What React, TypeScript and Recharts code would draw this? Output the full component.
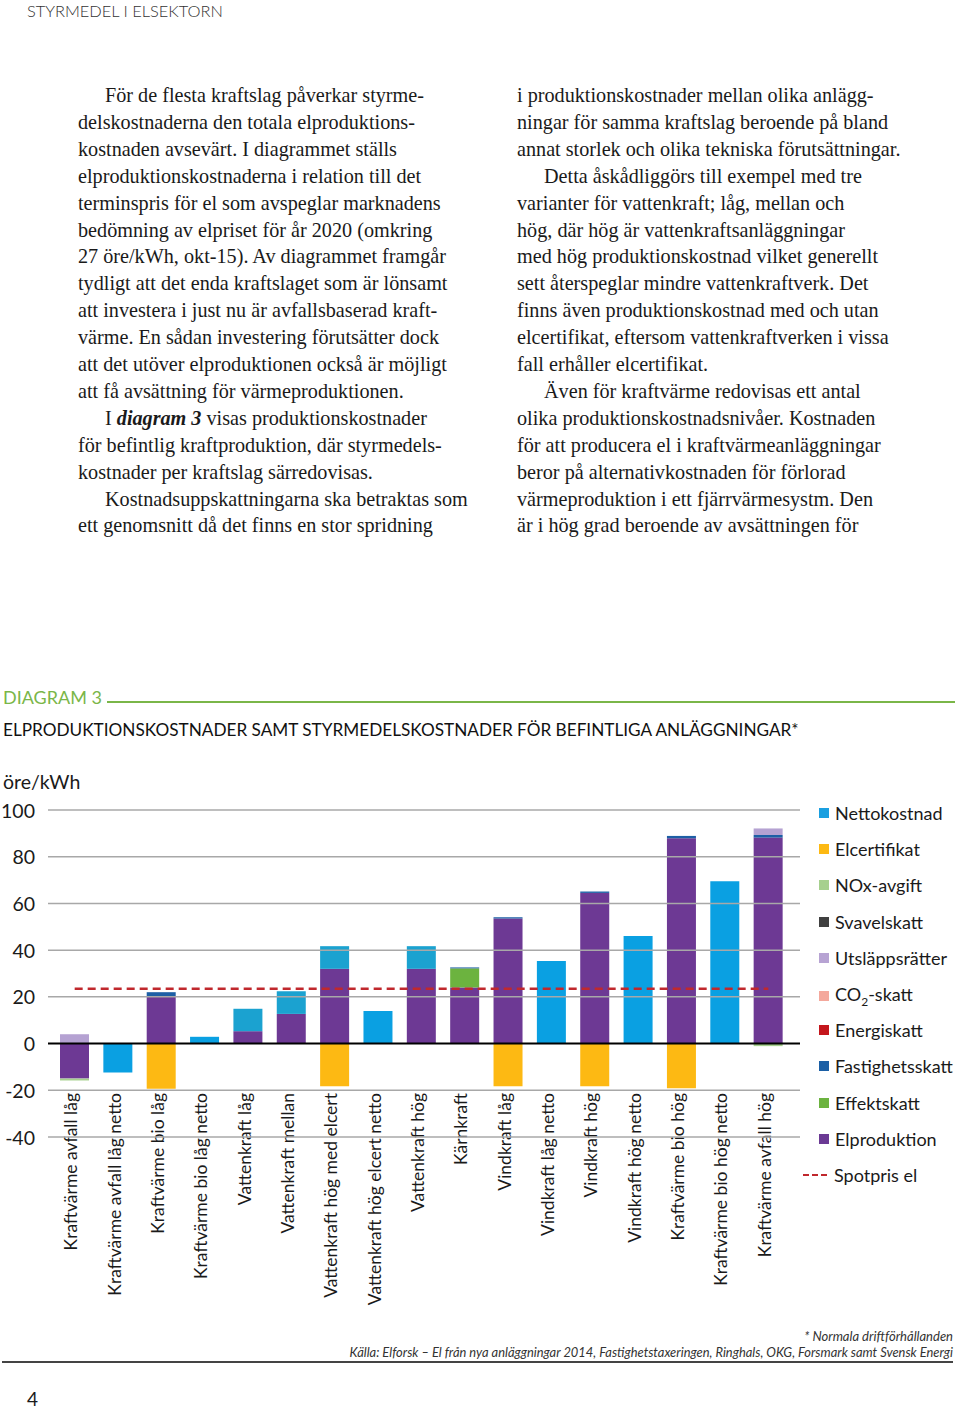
import React from "react";
import { BarChart, Bar, XAxis, YAxis, ReferenceLine } from "recharts";

const categories = [
  "Kraftvärme avfall låg",
  "Kraftvärme avfall låg netto",
  "Kraftvärme bio låg",
  "Kraftvärme bio låg netto",
  "Vattenkraft låg",
  "Vattenkraft mellan",
  "Vattenkraft hög med elcert",
  "Vattenkraft hög elcert netto",
  "Vattenkraft hög",
  "Kärnkraft",
  "Vindkraft låg",
  "Vindkraft låg netto",
  "Vindkraft hög",
  "Vindkraft hög netto",
  "Kraftvärme bio hög",
  "Kraftvärme bio hög netto",
  "Kraftvärme avfall hög",
];

// öre/kWh
const elproduktion = [-15, 0, 20.1, 0, 5.3, 12.7, 32, 0, 32, 24, 53.5, 0, 64.5, 0, 87.9, 0, 88.2];
const effektskatt = [0, 0, 0, 0, 0, 0, 0, 0, 0, 8.2, 0, 0, 0, 0, 0, 0, 0];
const fastighetsskatt = [0, 0, 1.9, 0, 0, 0, 0, 0, 0, 0.4, 0.6, 0, 0.6, 0, 1, 0, 1.1];
const fastighetsskattVatten = [0, 0, 0, 0, 9.6, 9.7, 9.7, 0, 9.7, 0, 0, 0, 0, 0, 0, 0, 0];
const energiskatt = [0, 0, 0, 0, 0, 0, 0, 0, 0, 0, 0, 0, 0, 0, 0, 0, 0];
const co2skatt = [0, 0, 0, 0, 0, 0, 0, 0, 0, 0, 0, 0, 0, 0, 0, 0, 0];
const utslappsratter = [4, 0, 0, 0, 0, 0, 0, 0, 0, 0, 0, 0, 0, 0, 0, 0, 2.8];
const svavelskatt = [0, 0, 0, 0, 0, 0, 0, 0, 0, 0, 0, 0, 0, 0, 0, 0, 0];
const noxavgift = [-0.8, 0, 0, 0, 0, 0, 0, 0, 0, 0, 0, 0, 0, 0, 0, 0, -1.1];
const elcertifikat = [0, 0, -19.3, 0, 0, 0, -18.3, 0, 0, 0, -18.3, 0, -18.3, 0, -19.1, 0, 0];
const nettokostnad = [0, -12.4, 0, 2.9, 0, 0, 0, 13.9, 0, 0, 0, 35.3, 0, 46.1, 0, 69.5, 0];
const SPOTPRIS = 23.5;
const yTicks = [-40, -20, 0, 20, 40, 60, 80, 100];

const data = categories.map((name, i) => ({
  name,
  elproduktion: elproduktion[i],
  effektskatt: effektskatt[i],
  fastighetsskatt: fastighetsskatt[i],
  fastighetsskattVatten: fastighetsskattVatten[i],
  energiskatt: energiskatt[i],
  co2skatt: co2skatt[i],
  utslappsratter: utslappsratter[i],
  svavelskatt: svavelskatt[i],
  noxavgift: noxavgift[i],
  elcertifikat: elcertifikat[i],
  nettokostnad: nettokostnad[i],
}));

const series = [
  { key: "elproduktion", color: "#6d3994" },
  { key: "effektskatt", color: "#6cb33f" },
  { key: "fastighetsskatt", color: "#1d5fa5" },
  { key: "fastighetsskattVatten", color: "#1ba2d0" },
  { key: "energiskatt", color: "#c4161c" },
  { key: "co2skatt", color: "#f4a89c" },
  { key: "utslappsratter", color: "#b5a2d2" },
  { key: "svavelskatt", color: "#404040" },
  { key: "noxavgift", color: "#a6d08e" },
  { key: "elcertifikat", color: "#fdb913" },
  { key: "nettokostnad", color: "#0aa0e2" },
];

const legendItems = [
  { label: "Nettokostnad", color: "#1a9fe0" },
  { label: "Elcertifikat", color: "#fdb913" },
  { label: "NOx-avgift", color: "#a6d08e" },
  { label: "Svavelskatt", color: "#404040" },
  { label: "Utsläppsrätter", color: "#b7a3d3" },
  { label: "CO2-skatt", color: "#f4a89c" },
  { label: "Energiskatt", color: "#c4161c" },
  { label: "Fastighetsskatt", color: "#1b5fa5" },
  { label: "Effektskatt", color: "#6cb33f" },
  { label: "Elproduktion", color: "#6b3a94" },
];

const col1 = [
  "För de flesta kraftslag påverkar styrme-",
  "delskostnaderna den totala elproduktions-",
  "kostnaden avsevärt. I diagrammet ställs",
  "elproduktionskostnaderna i relation till det",
  "terminspris för el som avspeglar marknadens",
  "bedömning av elpriset för år 2020 (omkring",
  "27 öre/kWh, okt-15). Av diagrammet framgår",
  "tydligt att det enda kraftslaget som är lönsamt",
  "att investera i just nu är avfallsbaserad kraft-",
  "värme. En sådan investering förutsätter dock",
  "att det utöver elproduktionen också är möjligt",
  "att få avsättning för värmeproduktionen.",
  "",
  "för befintlig kraftproduktion, där styrmedels-",
  "kostnader per kraftslag särredovisas.",
  "Kostnadsuppskattningarna ska betraktas som",
  "ett genomsnitt då det finns en stor spridning",
];
const col1Indent = [0, 12, 15];

const col2 = [
  "i produktionskostnader mellan olika anlägg-",
  "ningar för samma kraftslag beroende på bland",
  "annat storlek och olika tekniska förutsättningar.",
  "Detta åskådliggörs till exempel med tre",
  "varianter för vattenkraft; låg, mellan och",
  "hög, där hög är vattenkraftsanläggningar",
  "med hög produktionskostnad vilket generellt",
  "sett återspeglar mindre vattenkraftverk. Det",
  "finns även produktionskostnad med och utan",
  "elcertifikat, eftersom vattenkraftverken i vissa",
  "fall erhåller elcertifikat.",
  "Även för kraftvärme redovisas ett antal",
  "olika produktionskostnadsnivåer. Kostnaden",
  "för att producera el i kraftvärmeanläggningar",
  "beror på alternativkostnaden för förlorad",
  "värmeproduktion i ett fjärrvärmesystm. Den",
  "är i hög grad beroende av avsättningen för",
];
const col2Indent = [3, 11];

const FONT = "Lato, 'Noto Sans', sans-serif";
const SERIF = "'Liberation Serif', 'DejaVu Serif', serif";
const LINE_H = 26.9;
const TEXT_TOP = 82;

const chartProps = {
  width: 805,
  height: 527,
  data,
  stackOffset: "sign" as const,
  barSize: 29,
  margin: { top: 20, right: 5, bottom: 0, left: 0 },
};

function CategoryTick(props: any) {
  const { x, payload } = props;
  const y = 303;
  return (
    <text
      x={x - 4}
      y={y}
      transform={`rotate(-90, ${x - 4}, ${y})`}
      textAnchor="end"
      dominantBaseline="central"
      fontSize={17.5}
      fontFamily={FONT}
      fill="#1a1a1a"
    >
      {payload.value}
    </text>
  );
}

function ValueTick(props: any) {
  const { y, payload } = props;
  return (
    <text x={35} y={y} textAnchor="end" dominantBaseline="central" fontSize={19.5} fontFamily={FONT} fill="#1a1a1a">
      {payload.value}
    </text>
  );
}

// Grid, zero line and spot price sit on top of the bars, as in the original,
// so they are drawn by a second chart with the same scales and invisible bars
function ChartOverlay() {
  return (
    <BarChart {...chartProps}>
      <XAxis dataKey="name" axisLine={false} tickLine={false} tick={false} interval={0} height={180} padding={{ left: 5, right: 10 }} />
      <YAxis width={48} domain={[-40, 100]} ticks={yTicks} axisLine={false} tickLine={false} tick={false} />
      {series.map((s) => (
        <Bar key={s.key} dataKey={s.key} stackId="a" fill="none" isAnimationActive={false} />
      ))}
      {yTicks
        .filter((t) => t !== 0)
        .map((t) => (
          <ReferenceLine key={t} y={t} stroke="#a8a8a8" strokeWidth={1.5} />
        ))}
      <ReferenceLine y={0} stroke="#000" strokeWidth={2} />
      <ReferenceLine
        segment={[
          { x: categories[0], y: SPOTPRIS },
          { x: categories[categories.length - 1], y: SPOTPRIS },
        ]}
        stroke="#c0282d"
        strokeWidth={2.5}
        strokeDasharray="8 5"
      />
    </BarChart>
  );
}

function Page() {
  const lineStyle = (left: number, i: number): React.CSSProperties => ({
    position: "absolute",
    left,
    top: TEXT_TOP + i * LINE_H,
    fontFamily: SERIF,
    fontSize: 20.2,
    lineHeight: `${LINE_H}px`,
    whiteSpace: "nowrap",
    color: "#1a1a1a",
  });

  return (
    <>
      <div style={{ position: "absolute", left: 27, top: 1, fontFamily: FONT, fontWeight: 300, fontSize: 16.4, color: "#333" }}>
        STYRMEDEL I ELSEKTORN
      </div>

      {col1.map((line, i) => (
        <div key={"a" + i} style={lineStyle(col1Indent.includes(i) ? 105 : 78, i)}>
          {i === 12 ? (
            <>
              I <b><i>diagram 3</i></b> visas produktionskostnader
            </>
          ) : (
            line
          )}
        </div>
      ))}
      {col2.map((line, i) => (
        <div key={"b" + i} style={lineStyle(col2Indent.includes(i) ? 544 : 517, i)}>
          {line}
        </div>
      ))}

      <div style={{ position: "absolute", left: 3, top: 686, fontFamily: FONT, fontSize: 18, color: "#7ab648" }}>DIAGRAM 3</div>
      <div style={{ position: "absolute", left: 107, top: 701, width: 848, height: 2, background: "#7ab648" }} />
      <div style={{ position: "absolute", left: 3, top: 719, fontFamily: FONT, fontSize: 17.2, color: "#111", whiteSpace: "nowrap" }}>
        ELPRODUKTIONSKOSTNADER SAMT STYRMEDELSKOSTNADER FÖR BEFINTLIGA ANLÄGGNINGAR*
      </div>
      <div style={{ position: "absolute", left: 3, top: 770, fontFamily: FONT, fontSize: 19.5, color: "#1a1a1a" }}>öre/kWh</div>

      <div style={{ position: "absolute", left: 0, top: 790 }}>
        <BarChart {...chartProps}>
          <XAxis
            dataKey="name"
            axisLine={false}
            tickLine={false}
            interval={0}
            height={180}
            padding={{ left: 5, right: 10 }}
            tick={<CategoryTick />}
          />
          <YAxis
            width={48}
            domain={[-40, 100]}
            ticks={yTicks}
            axisLine={false}
            tickLine={false}
            tick={<ValueTick />}
          />
          {series.map((s) => (
            <Bar key={s.key} dataKey={s.key} stackId="a" fill={s.color} isAnimationActive={false} />
          ))}
        </BarChart>
      </div>
      <div style={{ position: "absolute", left: 0, top: 790, pointerEvents: "none" }}>
        <ChartOverlay />
      </div>

      {legendItems.map((item, i) => (
        <div
          key={item.label}
          style={{ position: "absolute", left: 819, top: 802 + i * 36.2, display: "flex", alignItems: "center", fontFamily: FONT, fontSize: 18, color: "#1a1a1a", whiteSpace: "nowrap" }}
        >
          <span style={{ display: "inline-block", width: 10, height: 10, background: item.color, marginRight: 6 }} />
          {item.label === "CO2-skatt" ? (
            <span>
              CO<sub style={{ fontSize: 12 }}>2</sub>-skatt
            </span>
          ) : (
            item.label
          )}
        </div>
      ))}
      <div style={{ position: "absolute", left: 803, top: 1164, display: "flex", alignItems: "center", fontFamily: FONT, fontSize: 18, color: "#1a1a1a" }}>
        <span style={{ display: "inline-block", width: 24, borderTop: "2px dashed #c0282d", marginRight: 7 }} />
        Spotpris el
      </div>

      <div style={{ position: "absolute", right: 7, top: 1328, fontFamily: FONT, fontStyle: "italic", fontSize: 13, color: "#333" }}>
        * Normala driftförhållanden
      </div>
      <div style={{ position: "absolute", right: 7, top: 1344, fontFamily: FONT, fontStyle: "italic", fontSize: 12.9, color: "#333", whiteSpace: "nowrap" }}>
        Källa: Elforsk – El från nya anläggningar 2014, Fastighetstaxeringen, Ringhals, OKG, Forsmark samt Svensk Energi
      </div>
      <div style={{ position: "absolute", left: 2, top: 1361, width: 951, height: 2, background: "#444" }} />
      <div style={{ position: "absolute", left: 27, top: 1389, fontFamily: FONT, fontSize: 19, lineHeight: "20px", color: "#1a1a1a" }}>4</div>
    </>
  );
}

export default function App() {
  return (
    <div style={{ position: "absolute", left: 0, top: 0, width: 960, height: 1411, background: "#fff", overflow: "hidden" }}>
      <Page />
    </div>
  );
}
